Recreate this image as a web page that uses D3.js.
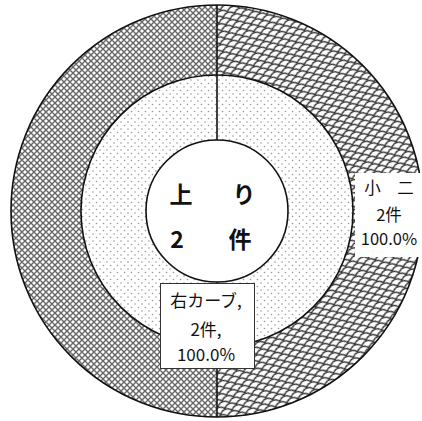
<!DOCTYPE html>
<html><head><meta charset="utf-8">
<script src="https://cdn.jsdelivr.net/npm/d3@7/dist/d3.min.js"></script>
<style>html,body{margin:0;padding:0;background:#fff;}svg{display:block;}</style>
</head><body><svg id="c" width="422" height="421"></svg>
<script>
const outerNames = ["小　二"];
const outerCounts = [2];
const outerPcts = [100.0];
const innerNames = ["右カーブ"];
const innerCounts = [2];
const innerPcts = [100.0];
const centerTitle = "上り";
const centerCount = 2;

const svg = d3.select("#c");
const cx = 217, cy = 211;
const rOuter = 206, rMid = 136, rIn = 71;
const defs = svg.append("defs");

// crosshatch
const p1 = defs.append("pattern").attr("id","cross").attr("patternUnits","userSpaceOnUse").attr("width",6).attr("height",6);
p1.append("rect").attr("width",6).attr("height",6).attr("fill","#fff");
p1.append("path").attr("d","M0,0L6,6M6,0L0,6M-3,3L3,9M3,-3L9,3M-3,3L3,-3M3,9L9,3").attr("stroke","#666").attr("stroke-width",1.4);
// scales
const p2 = defs.append("pattern").attr("id","scale").attr("patternUnits","userSpaceOnUse").attr("width",12).attr("height",8).attr("patternTransform","rotate(-20)");
p2.append("rect").attr("width",12).attr("height",8).attr("fill","#fff");
p2.append("path").attr("d","M0,4 Q6,-2 12,4 M-6,8 Q0,2 6,8 M6,8 Q12,2 18,8 M-6,0 Q0,-6 6,0 M6,0 Q12,-6 18,0").attr("fill","none").attr("stroke","#333").attr("stroke-width",1.4);
// dots
const p3 = defs.append("pattern").attr("id","dots").attr("patternUnits","userSpaceOnUse").attr("width",7).attr("height",7);
p3.append("rect").attr("width",7).attr("height",7).attr("fill","#fff");
p3.append("circle").attr("cx",2).attr("cy",2).attr("r",0.8).attr("fill","#999");
p3.append("circle").attr("cx",5.5).attr("cy",5.5).attr("r",0.8).attr("fill","#999");

const g = svg.append("g").attr("transform",`translate(${cx},${cy})`);
const pie = d3.pie().sort(null);
const outerArcs = pie(outerCounts);
const innerArcs = pie(innerCounts);
const arcO = d3.arc().innerRadius(rMid).outerRadius(rOuter);
const arcI = d3.arc().innerRadius(rIn).outerRadius(rMid);

// outer ring: right half scale pattern, left half crosshatch
outerArcs.forEach(a => {
  const mid = (a.startAngle + a.endAngle)/2;
  g.append("path").attr("d", arcO({startAngle:a.startAngle,endAngle:mid})).attr("fill","url(#scale)");
  g.append("path").attr("d", arcO({startAngle:mid,endAngle:a.endAngle})).attr("fill","url(#cross)");
});
innerArcs.forEach(a => {
  g.append("path").attr("d", arcI(a)).attr("fill","url(#dots)");
});
g.append("circle").attr("r",rIn).attr("fill","#fff");
[rOuter, rMid, rIn].forEach(r => g.append("circle").attr("r",r).attr("fill","none").attr("stroke","#111").attr("stroke-width",1.6));
// radial boundary lines
[0, Math.PI].forEach(t => {
  g.append("line").attr("x1",rIn*Math.sin(t)).attr("y1",-rIn*Math.cos(t)).attr("x2",rOuter*Math.sin(t)).attr("y2",-rOuter*Math.cos(t))
    .attr("stroke","#111").attr("stroke-width",1.6);
});

// center text
const font = "'Noto Sans CJK JP', sans-serif";
const ct = centerTitle.split("");
function ctext(x, y, s) {
  g.append("text").attr("x",x).attr("y",y).attr("text-anchor","middle").attr("font-family",font)
    .attr("font-weight","bold").attr("font-size",23).attr("fill","#111").text(s);
}
ctext(-36, -8, ct[0]);
ctext(27, -8, ct[1]);
ctext(-40, 37, String(centerCount));
ctext(23, 37, "件");

// outer label
const ob = svg.append("g");
ob.append("rect").attr("x",355).attr("y",173).attr("width",70).attr("height",84).attr("fill","#fff");
const oLines = [outerNames[0], outerCounts[0] + "件", outerPcts[0].toFixed(1) + "%"];
const oY = [194, 221, 245];
oLines.forEach((s, i) => {
  ob.append("text").attr("x",389).attr("y",oY[i]).attr("text-anchor","middle").attr("font-family",font)
    .attr("font-size",16.5).attr("fill","#111").text(s);
});

// inner label
const ib = svg.append("g");
ib.append("rect").attr("x",160.5).attr("y",283.5).attr("width",94).attr("height",85).attr("fill","#fff").attr("stroke","#333").attr("stroke-width",1);
const iLines = [innerNames[0] + ",", innerCounts[0] + "件,", innerPcts[0].toFixed(1) + "%"];
const iY = [307, 336, 361];
iLines.forEach((s, i) => {
  ib.append("text").attr("x",206).attr("y",iY[i]).attr("text-anchor","middle").attr("font-family",font)
    .attr("font-size",17).attr("fill","#111").text(s);
});
</script></body></html>
